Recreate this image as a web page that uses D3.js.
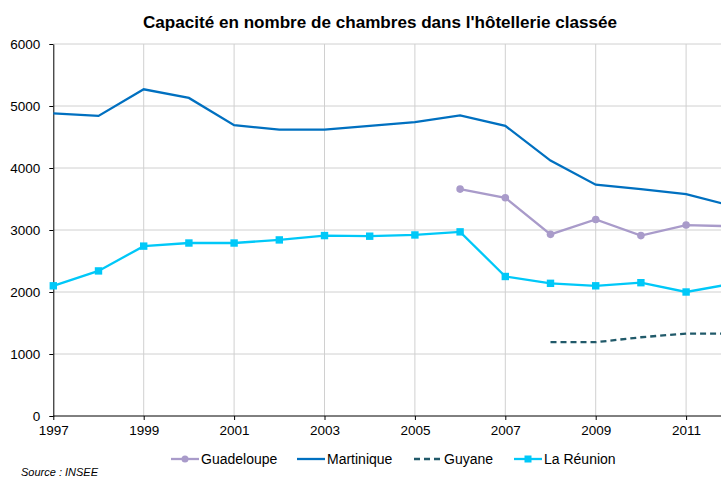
<!DOCTYPE html>
<html>
<head>
<meta charset="utf-8">
<script src="https://cdn.jsdelivr.net/npm/d3@7"></script>
<style>
  body { margin: 0; background: #fff; }
  svg { display: block; font-family: "Liberation Sans", Arial, sans-serif; }
</style>
</head>
<body>
<svg id="chart"></svg>
<script>
const width = 721;
const height = 478;

const years = d3.range(1997, 2013);
const guadeloupe = [null, null, null, null, null, null, null, null, null, 3660, 3520, 2930, 3170, 2910, 3080, 3060];
const martinique = [4880, 4840, 5270, 5130, 4690, 4620, 4620, 4680, 4740, 4850, 4680, 4120, 3730, 3660, 3580, 3390];
const guyane = [null, null, null, null, null, null, null, null, null, null, null, 1190, 1190, 1270, 1330, 1330];
const reunion = [2100, 2340, 2740, 2790, 2790, 2840, 2910, 2900, 2920, 2970, 2250, 2140, 2100, 2150, 2000, 2130];
const xTicks = [1997, 1999, 2001, 2003, 2005, 2007, 2009, 2011];
const yTicks = [0, 1000, 2000, 3000, 4000, 5000, 6000];

const series = [
    {name: 'Guadeloupe', values: guadeloupe, color: '#A99BCA', marker: 'circle', dash: null},
    {name: 'Martinique', values: martinique, color: '#0070C0', marker: null, dash: null},
    {name: 'Guyane', values: guyane, color: '#215A6A', marker: null, dash: '6,4'},
    {name: 'La Réunion', values: reunion, color: '#00C8F8', marker: 'square', dash: null}
];

const svg = d3.select('#chart')
    .attr('width', width)
    .attr('height', height);

const x = d3.scaleLinear().domain([1997, 2012]).range([53.3, 731.3]);
const y = d3.scaleLinear().domain([0, 6000]).range([416, 44]);

// title
svg.append('text')
    .attr('x', 380)
    .attr('y', 28)
    .attr('text-anchor', 'middle')
    .attr('font-weight', 'bold')
    .attr('font-size', 17)
    .attr('textLength', 474)
    .attr('lengthAdjust', 'spacingAndGlyphs')
    .attr('fill', '#000')
    .text("Capacité en nombre de chambres dans l'hôtellerie classée");

// grid
svg.append('g')
    .selectAll('line')
    .data(yTicks.filter(d => d > 0))
    .enter()
    .append('line')
    .attr('x1', x(1997))
    .attr('x2', width)
    .attr('y1', d => y(d))
    .attr('y2', d => y(d))
    .attr('stroke', '#D0D0D0')
    .attr('stroke-width', 1);

svg.append('g')
    .selectAll('line')
    .data(xTicks.filter(d => d > 1997))
    .enter()
    .append('line')
    .attr('x1', d => x(d))
    .attr('x2', d => x(d))
    .attr('y1', y(6000))
    .attr('y2', y(0))
    .attr('stroke', '#D0D0D0')
    .attr('stroke-width', 1);

// axes
const xAxis = svg.append('g')
    .attr('transform', `translate(0, ${y(0)})`)
    .call(d3.axisBottom(x).tickValues(xTicks).tickFormat(d3.format('d')).tickSize(4).tickSizeOuter(0));
xAxis.select('.domain').attr('d', `M${x(1997)},0H${width}`).attr('stroke', '#000');
xAxis.selectAll('.tick line').attr('stroke', '#000');
xAxis.selectAll('text')
    .attr('font-size', 13.5)
    .attr('font-family', '"Liberation Sans", Arial, sans-serif')
    .attr('fill', '#000')
    .attr('dy', '0.71em')
    .attr('y', 9);

const yAxis = svg.append('g')
    .attr('transform', `translate(${x(1997)}, 0)`)
    .call(d3.axisLeft(y).tickValues(yTicks).tickFormat(d3.format('d')).tickSize(4).tickSizeOuter(0));
yAxis.select('.domain').attr('stroke', '#000');
yAxis.selectAll('.tick line').attr('stroke', '#000');
yAxis.selectAll('text')
    .attr('font-size', 13.5)
    .attr('font-family', '"Liberation Sans", Arial, sans-serif')
    .attr('fill', '#000')
    .attr('x', -13);

// lines
const line = d3.line()
    .defined(d => d.v !== null)
    .x(d => x(d.year))
    .y(d => y(d.v));

series.forEach(s => {
    const pts = years.map((yr, i) => ({year: yr, v: s.values[i]}));
    svg.append('path')
        .datum(pts)
        .attr('fill', 'none')
        .attr('stroke', s.color)
        .attr('stroke-width', 2.3)
        .attr('stroke-dasharray', s.dash)
        .attr('d', line);

    const valid = pts.filter(d => d.v !== null);
    if (s.marker === 'circle') {
        svg.append('g').selectAll('circle')
            .data(valid)
            .enter()
            .append('circle')
            .attr('cx', d => x(d.year))
            .attr('cy', d => y(d.v))
            .attr('r', 3.8)
            .attr('fill', s.color);
    } else if (s.marker === 'square') {
        svg.append('g').selectAll('rect')
            .data(valid)
            .enter()
            .append('rect')
            .attr('x', d => x(d.year) - 3.7)
            .attr('y', d => y(d.v) - 3.7)
            .attr('width', 7.4)
            .attr('height', 7.4)
            .attr('fill', s.color);
    }
});

// legend
const legendX = [171, 297, 414, 514];
const legend = svg.append('g').attr('transform', 'translate(0, 459)');
series.forEach((s, i) => {
    const g = legend.append('g').attr('transform', `translate(${legendX[i]}, 0)`);
    g.append('line')
        .attr('x1', 0).attr('x2', 28)
        .attr('y1', 0).attr('y2', 0)
        .attr('stroke', s.color)
        .attr('stroke-width', 2.3)
        .attr('stroke-dasharray', s.dash);
    if (s.marker === 'circle') {
        g.append('circle').attr('cx', 14).attr('cy', 0).attr('r', 3.5).attr('fill', s.color);
    } else if (s.marker === 'square') {
        g.append('rect').attr('x', 10.5).attr('y', -3.5).attr('width', 7).attr('height', 7).attr('fill', s.color);
    }
    g.append('text')
        .attr('x', 30)
        .attr('y', 0)
        .attr('dy', '0.35em')
        .attr('font-size', 14)
        .attr('fill', '#000')
        .text(s.name);
});

// source
svg.append('text')
    .attr('x', 21)
    .attr('y', 476)
    .attr('font-size', 11)
    .attr('font-style', 'italic')
    .attr('fill', '#000')
    .text('Source : INSEE');
</script>
</body>
</html>
